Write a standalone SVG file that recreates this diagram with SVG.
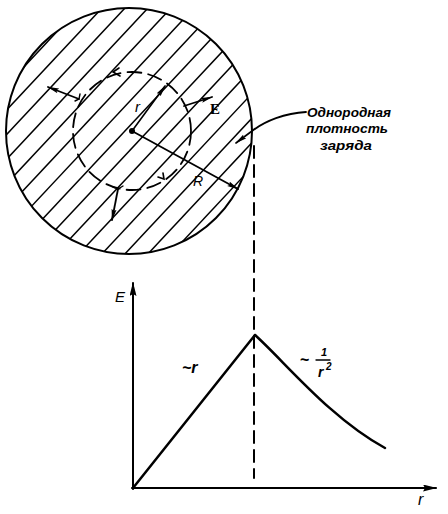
<svg xmlns="http://www.w3.org/2000/svg" width="448" height="514" viewBox="0 0 448 514">
<style>
.ln{fill:none;stroke:#000;stroke-linecap:round}
.hatch{stroke:#000;stroke-width:1.5}
.txt{font-family:"Liberation Sans",Arial,sans-serif;fill:#000}
.it{font-style:italic}
.b{font-weight:bold}
</style>
<defs>
<clipPath id="cc"><circle cx="129" cy="131" r="123"/></clipPath>
<marker id="ah" viewBox="0 0 12 6" refX="11" refY="3" markerWidth="12" markerHeight="6" markerUnits="userSpaceOnUse" orient="auto">
<path d="M0,0.5 L12,3 L0,5.5 L2,3 Z" fill="#000"/>
</marker>
<marker id="axh" viewBox="0 0 14 7" refX="13" refY="3.5" markerWidth="14" markerHeight="7" markerUnits="userSpaceOnUse" orient="auto">
<path d="M0,0 L14,3.5 L0,7 L2,3.5 Z" fill="#000"/>
</marker>
</defs>
<g id="sphere">
<g clip-path="url(#cc)">
<line class="hatch" x1="-214" y1="272" x2="48" y2="-8"/>
<line class="hatch" x1="-191" y1="272" x2="71" y2="-8"/>
<line class="hatch" x1="-168" y1="272" x2="94" y2="-8"/>
<line class="hatch" x1="-145" y1="272" x2="117" y2="-8"/>
<line class="hatch" x1="-122" y1="272" x2="140" y2="-8"/>
<line class="hatch" x1="-99" y1="272" x2="163" y2="-8"/>
<line class="hatch" x1="-76" y1="272" x2="186" y2="-8"/>
<line class="hatch" x1="-53" y1="272" x2="209" y2="-8"/>
<line class="hatch" x1="-30" y1="272" x2="232" y2="-8"/>
<line class="hatch" x1="-7" y1="272" x2="255" y2="-8"/>
<line class="hatch" x1="16" y1="272" x2="278" y2="-8"/>
<line class="hatch" x1="39" y1="272" x2="301" y2="-8"/>
<line class="hatch" x1="62" y1="272" x2="324" y2="-8"/>
<line class="hatch" x1="85" y1="272" x2="347" y2="-8"/>
<line class="hatch" x1="108" y1="272" x2="370" y2="-8"/>
<line class="hatch" x1="131" y1="272" x2="393" y2="-8"/>
<line class="hatch" x1="154" y1="272" x2="416" y2="-8"/>
</g>
<circle class="ln" cx="129" cy="131" r="123" stroke-width="2"/>
</g>
<g id="gauss-surface">
<circle class="ln" cx="132" cy="131" r="59" stroke-width="1.8" stroke-dasharray="14 7"/>
<path class="ln" d="M119,68 L113,72 L120,76" stroke-width="1.6"/>
<path class="ln" d="M158,177 L164,179 L163,173" stroke-width="1.6"/>
</g>
<g id="vectors">
<circle cx="132" cy="131" r="3" fill="#000"/>
<line class="ln" x1="132" y1="131" x2="165" y2="86" stroke-width="1.6" marker-end="url(#ah)"/>
<line class="ln" x1="132" y1="131" x2="238" y2="189" stroke-width="1.8" marker-end="url(#ah)"/>
<line class="ln" x1="184" y1="106" x2="212" y2="97" stroke-width="1.8" marker-end="url(#ah)"/>
<line class="ln" x1="79" y1="99" x2="48" y2="87" stroke-width="1.8" marker-end="url(#ah)"/>
<line class="ln" x1="118" y1="189" x2="112" y2="220" stroke-width="1.8" marker-end="url(#ah)"/>
<path class="ln" d="M75,101 L79,99 L80,94" stroke-width="1.4"/>
<path class="ln" d="M113,187 L118,189 L123,186" stroke-width="1.4"/>
<text class="txt it" x="135" y="112" font-size="15">r</text>
<text x="210" y="114" font-size="15" font-weight="bold" style="font-family:'Liberation Serif',serif">E</text>
<text class="txt it" x="193" y="186" font-size="14">R</text>
</g>
<g id="label-density">
<path class="ln" d="M306,112 C285,113 265,121 252,131" stroke-width="1.8"/>
<line class="ln" x1="252" y1="131" x2="236" y2="143" stroke-width="1.6" marker-end="url(#ah)"/>
<text class="txt it b" x="307" y="117" font-size="13" textLength="84" lengthAdjust="spacingAndGlyphs">Однородная</text>
<text class="txt it b" x="306" y="133" font-size="13" textLength="82" lengthAdjust="spacingAndGlyphs">плотность</text>
<text class="txt it b" x="320" y="150" font-size="13" textLength="52" lengthAdjust="spacingAndGlyphs">заряда</text>
</g>
<g id="connectors">
<line class="ln" x1="254" y1="146" x2="254" y2="478" stroke-width="2" stroke-dasharray="12 7" stroke-linecap="butt"/>
</g>
<g id="graph">
<line class="ln" x1="133" y1="489" x2="133" y2="283" stroke-width="2" marker-end="url(#axh)"/>
<line class="ln" x1="132" y1="488" x2="436" y2="488" stroke-width="2" marker-end="url(#axh)"/>
<path class="ln" d="M133,488 L255,335" stroke-width="2.5"/>
<path class="ln" d="M255,335 C285,362 330,418 385,448" stroke-width="2.5"/>
<text class="txt it" x="115" y="302" font-size="15">E</text>
<text class="txt it" x="418" y="505" font-size="16">r</text>
<text class="txt it b" x="182" y="373" font-size="16">~r</text>
<text class="txt b" x="300" y="365" font-size="16">~</text>
<text class="txt it b" x="321" y="356" font-size="11">1</text>
<line class="ln" x1="316" y1="360" x2="330" y2="360" stroke-width="1.3"/>
<text class="txt it b" x="318" y="377" font-size="14">r</text>
<text class="txt it b" x="326" y="370" font-size="10">2</text>
</g>
</svg>
